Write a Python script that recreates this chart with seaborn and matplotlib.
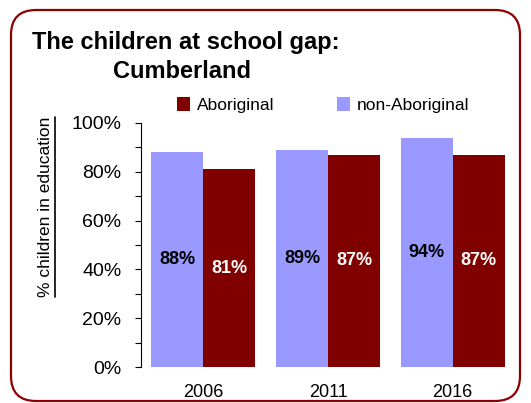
import matplotlib
matplotlib.use('Agg')
import matplotlib.pyplot as plt
import seaborn as sns
import pandas as pd
from matplotlib.patches import FancyBboxPatch, Patch
from matplotlib.lines import Line2D
from matplotlib.ticker import MultipleLocator, FuncFormatter

# ---- data ----
years = ['2006', '2011', '2016']
non_aboriginal = [0.88, 0.89, 0.94]
aboriginal = [0.81, 0.87, 0.87]
series = ['non-Aboriginal', 'Aboriginal']
legend_order = ['Aboriginal', 'non-Aboriginal']
colors = {'non-Aboriginal': '#9999FF', 'Aboriginal': '#800000'}
label_colors = {'non-Aboriginal': 'black', 'Aboriginal': 'white'}
title_line1 = 'The children at school gap:'
title_line2 = 'Cumberland'
ylabel = '% children in education'

df = pd.DataFrame({
    'Year': years * 2,
    'Group': ['non-Aboriginal'] * len(years) + ['Aboriginal'] * len(years),
    'Share': non_aboriginal + aboriginal,
})

sns.set_style('white')
plt.rcParams['font.family'] = ['Liberation Sans', 'DejaVu Sans']
plt.rcParams['text.color'] = 'black'
plt.rcParams['axes.labelcolor'] = 'black'
plt.rcParams['xtick.color'] = 'black'
plt.rcParams['ytick.color'] = 'black'

W, H = 531, 403
fig = plt.figure(figsize=(W / 100, H / 100), dpi=100)

# rounded border
border = FancyBboxPatch((0.11, 0.02), 5.09, 3.91,
                        boxstyle='round,pad=0,rounding_size=0.25',
                        transform=fig.dpi_scale_trans, fill=False,
                        edgecolor='#8B0000', linewidth=1.6, zorder=0)
fig.patches.append(border)

ax = fig.add_axes([141 / W, 1 - 367 / H, 374 / W, 244 / H])
sns.barplot(data=df, x='Year', y='Share', hue='Group', hue_order=series,
            order=years, palette=colors, width=0.835, gap=0, saturation=1,
            linewidth=0, legend=False, ax=ax)

for cont, name in zip(ax.containers, series):
    ax.bar_label(cont, labels=[f'{v.get_height() * 100:.0f}%' for v in cont],
                 label_type='center', color=label_colors[name],
                 fontweight='bold', fontsize=13)

ax.set_ylim(0, 1.0)
ax.yaxis.set_major_locator(MultipleLocator(0.2))
ax.yaxis.set_minor_locator(MultipleLocator(0.1))
ax.yaxis.set_major_formatter(FuncFormatter(lambda v, p: f'{v * 100:.0f}%'))
ax.tick_params(axis='y', which='both', direction='out', length=4, width=0.8,
               left=True, labelsize=14, pad=10)
ax.tick_params(axis='x', length=0, labelsize=13, pad=12)
ax.set_xlabel('')
ax.set_ylabel('')
for s in ['top', 'right', 'bottom']:
    ax.spines[s].set_visible(False)
ax.spines['left'].set_color('black')
ax.spines['left'].set_linewidth(0.8)
ax.set_facecolor('none')

# title
fig.text(32 / W, 1 - 42 / H, title_line1, fontsize=17, fontweight='bold',
         ha='left', va='center')
fig.text(113 / W, 1 - 71 / H, title_line2, fontsize=17, fontweight='bold',
         ha='left', va='center')

# legend
handles = [Patch(facecolor=colors[n], edgecolor='none', label=n) for n in legend_order]
fig.legend(handles=handles, loc='center', bbox_to_anchor=(323 / W, 1 - 105 / H),
           ncol=2, frameon=False, fontsize=12.5, handlelength=0.75,
           handleheight=0.85, handletextpad=0.4, columnspacing=3.6)

# y label with underline
yl = fig.text(46 / W, 1 - 207 / H, ylabel, rotation=90, fontsize=12.5,
              ha='center', va='center')
fig.canvas.draw()
bb = yl.get_window_extent().transformed(fig.transFigure.inverted())
fig.add_artist(Line2D([55 / W, 55 / W], [bb.y0, bb.y1], color='black',
                      linewidth=1.2, transform=fig.transFigure))

fig.savefig('out.png', dpi=100)
